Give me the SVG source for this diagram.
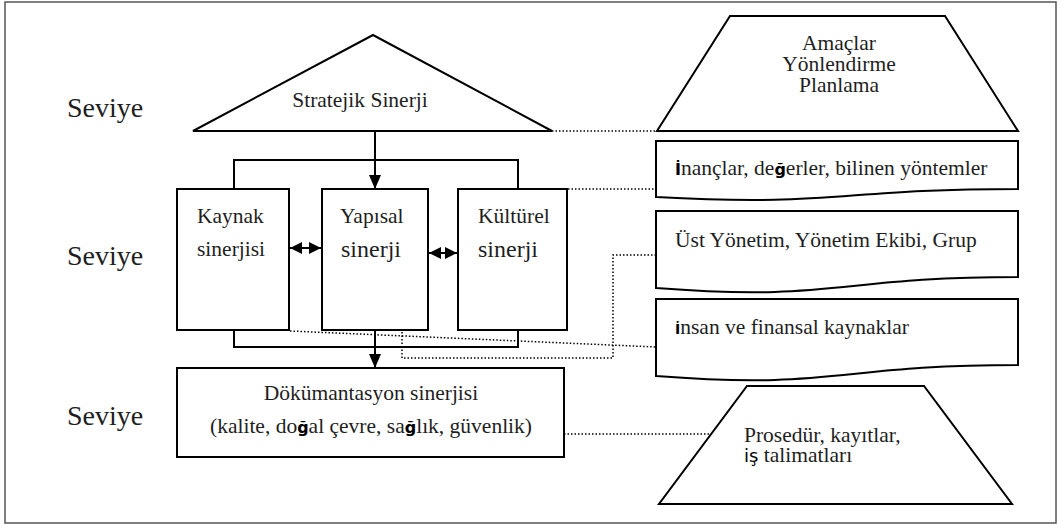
<svg xmlns="http://www.w3.org/2000/svg" width="1057" height="524" viewBox="0 0 1057 524">
<defs>
<style>
.t{font-family:"Liberation Serif","Times New Roman",serif;font-size:21.5px;fill:#1e1e1e}
.big{font-size:28px}
.mid{font-size:24px}
.sb{font-family:"DejaVu Sans","Liberation Sans",sans-serif;font-weight:bold;font-size:16px;fill:#000}
.sn{font-family:"DejaVu Sans","Liberation Sans",sans-serif;font-weight:normal;font-size:18px;fill:#000}
.shape{fill:#fff;stroke:#000;stroke-width:2;stroke-linejoin:miter}
.solid{fill:none;stroke:#000;stroke-width:2}
.dot{fill:none;stroke:#000;stroke-width:1.5;stroke-dasharray:1.5 2}
</style>
<marker id="ah" viewBox="0 0 12 12" refX="12" refY="6" markerWidth="12" markerHeight="12" markerUnits="userSpaceOnUse" orient="auto-start-reverse">
<path d="M0,0 L12,6 L0,12 Z" fill="#000"/>
</marker>
<marker id="av" viewBox="0 0 14 12" refX="14" refY="6" markerWidth="14" markerHeight="12" markerUnits="userSpaceOnUse" orient="auto">
<path d="M0,0 L14,6 L0,12 Z" fill="#000"/>
</marker>
</defs>
<rect x="5" y="2" width="1051" height="521" fill="#fff" stroke="#555" stroke-width="1.5"/>

<g id="levels">
<text class="t big" x="67" y="117">Seviye</text>
<text class="t big" x="67" y="265">Seviye</text>
<text class="t big" x="67" y="425">Seviye</text>
</g>

<g id="connectors">
<path class="solid" d="M234,189 V160 H518 V189"/>
<path class="solid" d="M234,330 V347 H518 V330"/>
<line class="solid" x1="375" y1="131" x2="375" y2="189" marker-end="url(#av)"/>
<line class="solid" x1="375" y1="330" x2="375" y2="368" marker-end="url(#av)"/>
<line class="solid" x1="290" y1="248" x2="321" y2="248" marker-start="url(#ah)" marker-end="url(#ah)"/>
<line class="solid" x1="429" y1="253" x2="457" y2="253" marker-start="url(#ah)" marker-end="url(#ah)"/>
<line class="dot" x1="552" y1="131" x2="657" y2="131"/>
<line class="dot" x1="568" y1="189" x2="656" y2="189"/>
<path class="dot" d="M656,255 H613 V358 H402 V331"/>
<line class="dot" x1="290" y1="331" x2="656" y2="347"/>
<line class="dot" x1="564" y1="434" x2="711" y2="434"/>
</g>

<g id="stratejik">
<polygon class="shape" points="373,35 552,131 193,131"/>
<text class="t" x="360" y="107" text-anchor="middle">Stratejik Sinerji</text>
</g>

<g id="kaynak">
<rect class="shape" x="177" y="189" width="112" height="141"/>
<text class="t" x="197" y="223">Kaynak</text>
<text class="t" x="197" y="256">sinerjisi</text>
</g>

<g id="yapisal">
<rect class="shape" x="322" y="189" width="106" height="141"/>
<text class="t" x="340" y="223">Yapısal</text>
<text class="t mid" x="341" y="257">sinerji</text>
</g>

<g id="kulturel">
<rect class="shape" x="458" y="189" width="109" height="141"/>
<text class="t" x="478" y="223">Kültürel</text>
<text class="t mid" x="478" y="257">sinerji</text>
</g>

<g id="dokumantasyon">
<rect class="shape" x="177" y="368" width="387" height="89"/>
<text class="t" x="371" y="400" text-anchor="middle">Dökümantasyon sinerjisi</text>
<text class="t" x="371" y="433" text-anchor="middle">(kalite, do<tspan class="sb">ğ</tspan>al çevre, sa<tspan class="sb">ğ</tspan>lık, güvenlik)</text>
</g>

<g id="amaclar">
<polygon class="shape" points="730,16 945,16 1018,131 657,131"/>
<text class="t" x="839" y="50" text-anchor="middle">Amaçlar</text>
<text class="t" x="839" y="71" text-anchor="middle">Yönlendirme</text>
<text class="t" x="839" y="92" text-anchor="middle">Planlama</text>
</g>

<g id="inanclar">
<path class="shape" d="M656,141 H1018 V189 C837,189 837,207 656,197 Z"/>
<text class="t" x="675" y="175"><tspan class="sb" font-size="14">İ</tspan>nançlar, de<tspan class="sb">ğ</tspan>erler, bilinen yöntemler</text>
</g>

<g id="ust">
<path class="shape" d="M656,211 H1018 V277 C837,277 837,302 656,288 Z"/>
<text class="t" x="675" y="247">Üst Yönetim, Yönetim Ekibi, Grup</text>
</g>

<g id="insan">
<path class="shape" d="M656,299 H1018 V365 C837,365 837,390 656,376 Z"/>
<text class="t" x="675" y="334"><tspan class="sb" style="font-size:14px">İ</tspan>nsan ve finansal kaynaklar</text>
</g>

<g id="prosedur">
<polygon class="shape" points="747,386 924,386 1012,504 659,504"/>
<text class="t" x="744" y="442">Prosedür, kayıtlar,</text>
<text class="t" x="744" y="462"><tspan class="sn">iş</tspan> talimatları</text>
</g>
</svg>
